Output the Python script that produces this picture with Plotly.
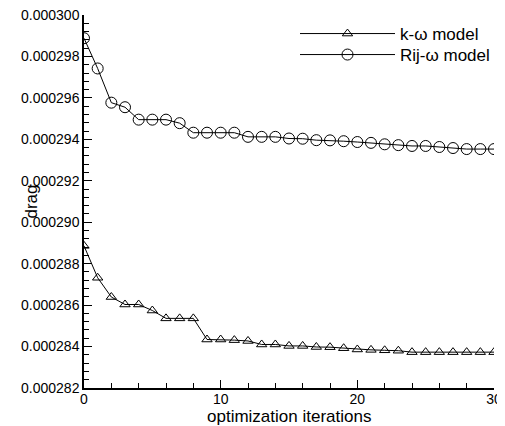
import plotly.graph_objects as go

iterations = list(range(31))
k_omega = [288.86, 287.32, 286.39, 286.03, 286.03, 285.74, 285.36, 285.36, 285.36, 284.34,
           284.34, 284.31, 284.27, 284.10, 284.10, 284.03, 284.03, 283.98, 283.97, 283.92,
           283.86, 283.84, 283.82, 283.80, 283.73, 283.73, 283.73, 283.73, 283.73, 283.73, 283.73]
rij_omega = [298.88, 297.42, 295.77, 295.55, 294.95, 294.95, 294.95, 294.78, 294.32, 294.32,
             294.32, 294.32, 294.12, 294.12, 294.12, 294.04, 294.03, 293.96, 293.95, 293.91,
             293.87, 293.83, 293.76, 293.72, 293.68, 293.68, 293.63, 293.58, 293.53, 293.53, 293.53]
scale = 1e-6
series_names = ["k-ω model", "Rij-ω model"]
y_ticks = [0.000282, 0.000284, 0.000286, 0.000288, 0.000290, 0.000292,
           0.000294, 0.000296, 0.000298, 0.000300]

FONT = "Liberation Sans, Arial, Helvetica, sans-serif"
OFF = 8  # page body margin offset
W, H = 505 - OFF, 426 - OFF
# plot area in screen pixels: x 84..494, y 15..388
SX0, SX1, SY0, SY1 = 84, 494, 15, 388
L = SX0 - OFF
T = SY0 - OFF
R = W - (SX1 - OFF)
B = H - (SY1 - OFF)
PH = H - T - B
PW = W - L - R

def px_x(sx):
    return (sx - SX0) / PW

def px_y(sy):
    return 1 - (sy - SY0) / PH

fig = go.Figure()
fig.add_trace(go.Scatter(
    x=iterations, y=[v * scale for v in k_omega], name=series_names[0],
    mode="lines+markers", legend="legend",
    line=dict(color="black", width=1),
    marker=dict(symbol="triangle-up-open", size=9, color="black", line=dict(width=1)),
))
fig.add_trace(go.Scatter(
    x=iterations, y=[v * scale for v in rij_omega], name=series_names[1],
    mode="lines+markers", legend="legend2",
    line=dict(color="black", width=1),
    marker=dict(symbol="circle-open", size=11, color="black", line=dict(width=1)),
))

def leg(sy):
    return dict(
        x=px_x(295), y=px_y(sy), xanchor="left", yanchor="middle",
        bgcolor="rgba(0,0,0,0)", borderwidth=0,
        font=dict(size=17, family=FONT, color="black"),
        itemwidth=95,
    )

fig.update_layout(
    width=W, height=H,
    margin=dict(l=L, r=R, t=T, b=B),
    paper_bgcolor="white", plot_bgcolor="white",
    font=dict(family=FONT, color="black", size=14),
    showlegend=True,
    legend=leg(34),
    legend2=leg(55),
    xaxis=dict(
        range=[0, 30], showgrid=False, zeroline=False, automargin=False,
        showline=True, linecolor="black", linewidth=1.5,
        ticks="inside", ticklen=8, tickwidth=1.2, tickcolor="black",
        dtick=10, tick0=0, ticklabelstandoff=-3, ticklabeloverflow="allow",
        tickfont=dict(size=14, family=FONT, color="black"),
        minor=dict(ticks="inside", ticklen=5, tickwidth=1.2, tickcolor="black", dtick=2, showgrid=False),
    ),
    yaxis=dict(
        range=[0.000282, 0.000300], showgrid=False, zeroline=False, automargin=False,
        showline=True, linecolor="black", linewidth=1.5,
        ticks="inside", ticklen=8, tickwidth=1.2, tickcolor="black",
        tickmode="array", tickvals=y_ticks, ticktext=[f"{v:.6f}" for v in y_ticks],
        ticklabeloverflow="allow",
        tickfont=dict(size=14, family=FONT, color="black"),
        minor=dict(ticks="inside", ticklen=5, tickwidth=1.2, tickcolor="black", dtick=4e-7, tick0=0.000282, showgrid=False),
    ),
    annotations=[
        dict(text="optimization iterations", xref="paper", yref="paper",
             x=0.5, y=px_y(416), xanchor="center", yanchor="middle",
             showarrow=False, font=dict(size=17, family=FONT, color="black")),
        dict(text="drag", xref="paper", yref="paper",
             x=px_x(31), y=0.5, xanchor="center", yanchor="middle",
             textangle=-90, showarrow=False, font=dict(size=17, family=FONT, color="black")),
    ],
)

fig.write_html("out.html")
